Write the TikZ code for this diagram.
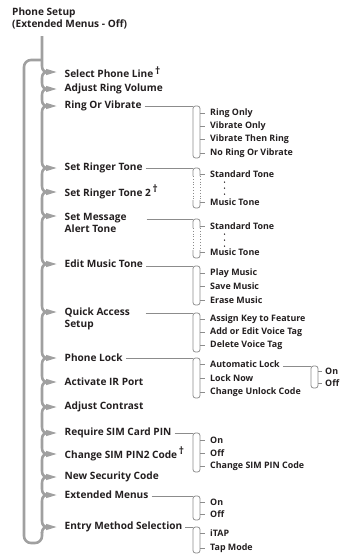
\documentclass[tikz,border=0pt]{standalone}
\usepackage{fontspec}
\setmainfont{Open Sans}
\usepackage{tikz}
\definecolor{menugray}{HTML}{A0A0A0}
\definecolor{linegray}{HTML}{8C8C8C}
\definecolor{inkcol}{HTML}{231F20}

\begin{document}
\begin{tikzpicture}[x=1pt, y=-1pt,
    item/.style={anchor=west, inner sep=0pt, text=inkcol, align=left, font=\bfseries\fontsize{10.1}{12}\selectfont},
    opt/.style={item, font=\bfseries\fontsize{8.9}{11}\selectfont},
    trunk/.style={draw=menugray, line width=2.6pt},
    sub/.style={draw=linegray, line width=0.8pt},
    tick/.style={draw=linegray, line width=0.8pt},
    dot/.style={fill=inkcol}]
    \useasboundingbox (0,0) rectangle (345,557);

    % Header
    \node[item, anchor=north west] (setup) at (12,7.8) {Phone Setup\\(Extended Menus - Off)};

    % Main menu items
    \node[item] (selline) at (64.5,72) {Select Phone Line\,\raisebox{3.5pt}{†}};
    \node[item] (ringvol) at (64.5,89) {Adjust Ring Volume};
    \node[item] (ringvib) at (64.5,106) {Ring Or Vibrate};
    \node[item] (ringer) at (64.5,168) {Set Ringer Tone};
    \node[item] (ringer2) at (64.5,192) {Set Ringer Tone 2\,\raisebox{3.5pt}{†}};
    \node[item, anchor=north west] (msg) at (64.5,213.3) {Set Message\\Alert Tone};
    \node[item] (editmusic) at (64.5,264) {Edit Music Tone};
    \node[item, anchor=north west] (quick) at (64.5,308) {Quick Access\\Setup};
    \node[item] (phonelock) at (64.5,358) {Phone Lock};
    \node[item] (irport) at (64.5,382) {Activate IR Port};
    \node[item] (contrast) at (64.5,407) {Adjust Contrast};
    \node[item] (simpin) at (64.5,433) {Require SIM Card PIN};
    \node[item] (pin2) at (64.5,454) {Change SIM PIN2 Code\,\raisebox{3.5pt}{†}};
    \node[item] (security) at (64.5,477) {New Security Code};
    \node[item] (extmenus) at (64.5,495) {Extended Menus};
    \node[item] (entry) at (64.5,527) {Entry Method Selection};

    % Trunk with brace tips
    \coordinate (top) at (42,36);
    \draw[trunk] (top) -- (42,66) .. controls (42,70) and (44,72) .. (48,72);
    \foreach \a/\b in {72/89,89/106,106/168,168/192,192/216,216/264,264/312,312/358,358/382,382/407,407/433,433/454,454/477,477/495,495/527}
        \draw[trunk] (48,\a) .. controls (44,\a) and (42,\a+2) .. (42,\a+6) -- (42,\b-6) .. controls (42,\b-2) and (44,\b) .. (48,\b);
    \draw[trunk] (48,527) .. controls (44,527) and (42,529) .. (42,533);
    \draw[trunk, rounded corners=7pt] (42,532) -- (42,543) -- (24,543) -- (24,60) -- (42,60);
    \foreach \y in {72,89,106,168,192,216,264,312,358,382,407,433,454,477,495,527}
        \fill[menugray] (46,\y-3.2) -- (56.5,\y) -- (46,\y+3.2) -- cycle;

    % Ring Or Vibrate
    \coordinate (rvb) at (193,106);
    \draw[sub] ([xshift=3pt]ringvib.east) -- (rvb);
    \draw[sub, rounded corners=2.5pt] (rvb) -- (200,106) -- (200,158) -- (193,158) -- cycle;
    \node[opt] (ringonly) at (210,113) {Ring Only};
    \node[opt] (vibonly) at (210,126) {Vibrate Only};
    \node[opt] (vibring) at (210,139) {Vibrate Then Ring};
    \node[opt] (noring) at (210,153) {No Ring Or Vibrate};

    % Set Ringer Tone
    \coordinate (rtb) at (193,168);
    \draw[sub] ([xshift=3pt]ringer.east) -- (rtb);
    \draw[sub, rounded corners=2.5pt] (193,176) -- (rtb) -- (200,168) -- (200,176);
    \draw[sub, dotted] (193,176) -- (193,200) (200,176) -- (200,200);
    \draw[sub, rounded corners=2.5pt] (193,200) -- (193,208) -- (200,208) -- (200,200);
    \node[opt] (std1) at (210,174) {Standard Tone};
    \node[opt] (mus1) at (210,202) {Music Tone};
    \foreach \y in {182,188,194}
        \fill[dot] (224.5,\y) circle (0.75pt);

    % Set Message Alert Tone
    \coordinate (mab) at (193,219);
    \draw[sub] ([shift={(82,5.7)}]msg.north west) -- (mab);
    \draw[sub, rounded corners=2.5pt] (193,228) -- (mab) -- (200,219) -- (200,228);
    \draw[sub, dotted] (193,228) -- (193,250) (200,228) -- (200,250);
    \draw[sub, rounded corners=2.5pt] (193,250) -- (193,258) -- (200,258) -- (200,250);
    \node[opt] (std2) at (210,226) {Standard Tone};
    \node[opt] (mus2) at (210,252) {Music Tone};
    \foreach \y in {234,240,246}
        \fill[dot] (224.5,\y) circle (0.75pt);

    % Edit Music Tone
    \coordinate (emb) at (193,266);
    \draw[sub] ([shift={(3,2)}]editmusic.east) -- (emb);
    \draw[sub, rounded corners=2.5pt] (emb) -- (200,266) -- (200,305) -- (193,305) -- cycle;
    \node[opt] (play) at (210,273) {Play Music};
    \node[opt] (save) at (210,286) {Save Music};
    \node[opt] (erase) at (210,300) {Erase Music};

    % Quick Access Setup
    \coordinate (qab) at (193,313);
    \draw[sub] ([shift={(81,5)}]quick.north west) -- (qab);
    \draw[sub, rounded corners=2.5pt] (qab) -- (200,313) -- (200,352) -- (193,352) -- cycle;
    \node[opt] (assign) at (210,319) {Assign Key to Feature};
    \node[opt] (addtag) at (210,332) {Add or Edit Voice Tag};
    \node[opt] (deltag) at (210,345) {Delete Voice Tag};

    % Phone Lock
    \coordinate (plb) at (193,358);
    \draw[sub] ([xshift=3pt]phonelock.east) -- (plb);
    \draw[sub, rounded corners=2.5pt] (plb) -- (200,358) -- (200,398) -- (193,398) -- cycle;
    \node[opt] (autolock) at (210,364) {Automatic Lock};
    \node[opt] (locknow) at (210,378) {Lock Now};
    \node[opt] (unlock) at (210,392) {Change Unlock Code};

    \coordinate (alb) at (311,366);
    \draw[sub] ([shift={(3,2)}]autolock.east) -- (alb);
    \draw[sub, rounded corners=2.5pt] (alb) -- (318,366) -- (318,388) -- (311,388) -- cycle;
    \node[opt] (on1) at (325,371) {On};
    \node[opt] (off1) at (325,383) {Off};

    % Require SIM Card PIN
    \coordinate (spb) at (193,433);
    \draw[sub] ([xshift=3pt]simpin.east) -- (spb);
    \draw[sub, rounded corners=2.5pt] (spb) -- (200,433) -- (200,472) -- (193,472) -- cycle;
    \node[opt] (on2) at (210,440) {On};
    \node[opt] (off2) at (210,453) {Off};
    \node[opt] (chpin) at (210,466) {Change SIM PIN Code};

    % Extended Menus
    \coordinate (emnb) at (193,496);
    \draw[sub] ([shift={(3,1)}]extmenus.east) -- (emnb);
    \draw[sub, rounded corners=2.5pt] (emnb) -- (200,496) -- (200,520) -- (193,520) -- cycle;
    \node[opt] (on3) at (210,502) {On};
    \node[opt] (off3) at (210,514) {Off};

    % Entry Method Selection
    \coordinate (esb) at (193,527);
    \draw[sub] ([xshift=3pt]entry.east) -- (esb);
    \draw[sub, rounded corners=2.5pt] (esb) -- (200,527) -- (200,553) -- (193,553) -- cycle;
    \node[opt] (itap) at (210,533) {iTAP};
    \node[opt] (tapmode) at (210,548) {Tap Mode};

    % Ticks to the options
    \foreach \n in {ringonly,vibonly,vibring,noring,std1,mus1,std2,mus2,play,save,erase,assign,addtag,deltag,autolock,locknow,unlock,on2,off2,chpin,on3,off3,itap,tapmode}
        \draw[tick] ([xshift=-10pt]\n.west) -- ([xshift=-5pt]\n.west);
    \foreach \n in {on1,off1}
        \draw[tick] ([xshift=-7pt]\n.west) -- ([xshift=-3pt]\n.west);
\end{tikzpicture}
\end{document}
